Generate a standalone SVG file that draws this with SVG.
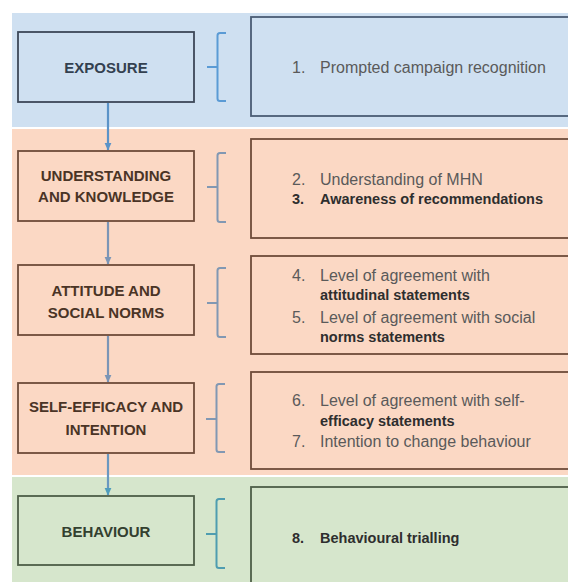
<svg xmlns="http://www.w3.org/2000/svg" width="568" height="582" viewBox="0 0 568 582">
<defs>
<style>
.lbl{font-family:"Liberation Sans",Arial,sans-serif;font-weight:bold;font-size:15px;text-anchor:middle}
.reg{font-family:"Liberation Sans",Arial,sans-serif;font-size:16px;fill:#5a5a5a}
.bld{font-family:"Liberation Sans",Arial,sans-serif;font-size:14.5px;font-weight:bold;fill:#2e2e2e}
.boxB{fill:none;stroke:#3c4858;stroke-width:1.8}
.boxS{fill:none;stroke:#6e4c3a;stroke-width:1.8}
.boxG{fill:none;stroke:#4e5e48;stroke-width:1.8}
.brk{fill:none;stroke-width:2;stroke-linecap:butt}
.arr{stroke-width:2.2;fill:none}
</style>
<marker id="ahB" markerWidth="8" markerHeight="8" refX="7" refY="4" orient="auto" markerUnits="userSpaceOnUse">
<path d="M0,0.6 L7.5,4 L0,7.4 Z" fill="#5b93c8"/>
</marker>
<marker id="ahS" markerWidth="8" markerHeight="8" refX="7" refY="4" orient="auto" markerUnits="userSpaceOnUse">
<path d="M0,0.6 L7.5,4 L0,7.4 Z" fill="#7b95b6"/>
</marker>
<marker id="ahG" markerWidth="8" markerHeight="8" refX="7" refY="4" orient="auto" markerUnits="userSpaceOnUse">
<path d="M0,0.6 L7.5,4 L0,7.4 Z" fill="#4f9dbc"/>
</marker>
</defs>
<rect width="568" height="582" fill="#ffffff"/>
<!-- bands -->
<rect x="12" y="13" width="556" height="114" fill="#cfe0f1"/>
<rect x="12" y="129" width="556" height="346" fill="#fbd8c4"/>
<rect x="12" y="477" width="556" height="105" fill="#d6e6cc"/>

<g id="connectors">
<line class="arr" x1="108" y1="103" x2="108" y2="150" stroke="#5b93c8" marker-end="url(#ahB)"/>
<line class="arr" x1="108" y1="222" x2="108" y2="264" stroke="#7b95b6" marker-end="url(#ahS)"/>
<line class="arr" x1="108" y1="336" x2="108" y2="382" stroke="#7b95b6" marker-end="url(#ahS)"/>
<line class="arr" x1="108" y1="454" x2="108" y2="495" stroke="#6a98c0" marker-end="url(#ahG)"/>
</g>

<g id="exposure">
<rect class="boxB" x="18" y="32" width="176" height="70"/>
<text class="lbl" x="106" y="73" fill="#334050">EXPOSURE</text>
<path class="brk" stroke="#5b9bd5" d="M226,33 H220 Q217.5,33 217.5,35.5 V98.5 Q217.5,101 220,101 H226 M207,67 H217.5"/>
<rect class="boxB" x="251" y="17" width="330" height="99" stroke-width="2.2" style="stroke:#4a5c74"/>
<text class="reg" x="292" y="72.5">1.</text>
<text class="reg" x="320" y="72.5">Prompted campaign recognition</text>
</g>

<g id="understanding">
<rect class="boxS" x="18" y="151" width="176" height="70"/>
<text class="lbl" x="106" y="181" fill="#4a3426">UNDERSTANDING</text>
<text class="lbl" x="106" y="202" fill="#4a3426">AND KNOWLEDGE</text>
<path class="brk" stroke="#8198b3" d="M226,153 H220 Q217.5,153 217.5,155.5 V219.5 Q217.5,222 220,222 H226 M207,187 H217.5"/>
<rect class="boxS" x="251" y="139" width="330" height="99"/>
<text class="reg" x="292" y="184.5">2.</text>
<text class="reg" x="320" y="184.5">Understanding of MHN</text>
<text class="bld" x="292" y="204">3.</text>
<text class="bld" x="320" y="204">Awareness of recommendations</text>
</g>

<g id="attitude">
<rect class="boxS" x="18" y="265" width="176" height="70"/>
<text class="lbl" x="106" y="295.5" fill="#4a3426">ATTITUDE AND</text>
<text class="lbl" x="106" y="318" fill="#4a3426">SOCIAL NORMS</text>
<path class="brk" stroke="#8198b3" d="M226,268 H220 Q217.5,268 217.5,270.5 V334.5 Q217.5,337 220,337 H226 M207,303 H217.5"/>
<rect class="boxS" x="251" y="256" width="330" height="98"/>
<text class="reg" x="292" y="281">4.</text>
<text class="reg" x="320" y="281">Level of agreement with</text>
<text class="bld" x="320" y="300">attitudinal statements</text>
<text class="reg" x="292" y="322.5">5.</text>
<text class="reg" x="320" y="322.5">Level of agreement with social</text>
<text class="bld" x="320" y="341.5">norms statements</text>
</g>

<g id="selfefficacy">
<rect class="boxS" x="18" y="383" width="176" height="70"/>
<text class="lbl" x="106" y="412" fill="#4a3426">SELF-EFFICACY AND</text>
<text class="lbl" x="106" y="435" fill="#4a3426">INTENTION</text>
<path class="brk" stroke="#8198b3" d="M225,384 H219 Q216.5,384 216.5,386.5 V449.5 Q216.5,452 219,452 H225 M206,419 H216.5"/>
<rect class="boxS" x="251" y="372" width="330" height="97"/>
<text class="reg" x="292" y="406">6.</text>
<text class="reg" x="320" y="406">Level of agreement with self-</text>
<text class="bld" x="320" y="425.5">efficacy statements</text>
<text class="reg" x="292" y="446.5">7.</text>
<text class="reg" x="320" y="446.5">Intention to change behaviour</text>
</g>

<g id="behaviour">
<rect class="boxG" x="18" y="496" width="176" height="69"/>
<text class="lbl" x="106" y="537" fill="#33402f">BEHAVIOUR</text>
<path class="brk" stroke="#4f9db0" d="M225,499 H219 Q216.5,499 216.5,501.5 V565.5 Q216.5,568 219,568 H225 M206,534 H216.5"/>
<rect class="boxG" x="251" y="487" width="330" height="110"/>
<text class="bld" x="292" y="542.5">8.</text>
<text class="bld" x="320" y="542.5">Behavioural trialling</text>
</g>
</svg>
